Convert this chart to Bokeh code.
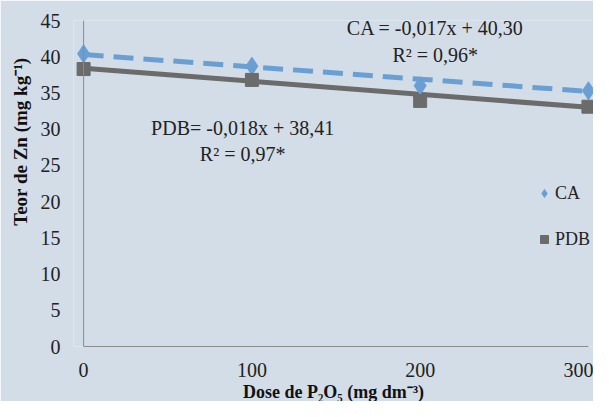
from bokeh.plotting import figure
from bokeh.models import Range1d, Label, Legend, LegendItem, FixedTicker, Title
from bokeh.embed import file_html
from bokeh.resources import INLINE

# data
doses = [0, 100, 200, 300]
ca_values = [40.4, 38.7, 36.0, 35.3]
pdb_values = [38.3, 36.8, 33.9, 33.1]
ca_slope, ca_intercept = -0.017, 40.30
pdb_slope, pdb_intercept = -0.018, 38.41
x_ticks = [0, 100, 200, 300]
y_ticks = [0, 5, 10, 15, 20, 25, 30, 35, 40, 45]

BG = "#D2DDE8"
BLUE = "#6A9FD4"
GRAY = "#6B6B6B"
FONT = "Liberation Serif"

p = figure(width=593, height=401, output_backend="svg", toolbar_location=None,
           x_range=Range1d(-6, 303), y_range=Range1d(0, 45),
           min_border_left=70, min_border_right=0, min_border_top=20, min_border_bottom=54)
p.background_fill_color = BG
p.border_fill_color = BG
p.outline_line_color = None
p.grid.visible = False

trend_x = [doses[0], doses[-1]]
ca_trend = [ca_intercept + ca_slope * x for x in trend_x]
pdb_trend = [pdb_intercept + pdb_slope * x for x in trend_x]

p.line(trend_x, ca_trend, line_color=BLUE, line_width=5, line_dash="20 10")
p.line(trend_x, pdb_trend, line_color=GRAY, line_width=5)
ca_sc = p.scatter(doses, ca_values, marker="diamond", size=18, fill_color=BLUE, line_color=BLUE)
pdb_sc = p.scatter(doses, pdb_values, marker="square", size=13, fill_color=GRAY, line_color=GRAY)

# y axis line at x=0
p.segment(x0=[x_ticks[0]], y0=[y_ticks[0]], x1=[x_ticks[0]], y1=[y_ticks[-1]],
          line_color="#8C8C8C", line_width=1)

for ax in (p.xaxis[0], p.yaxis[0]):
    ax.major_tick_line_color = None
    ax.minor_tick_line_color = None
    ax.major_label_text_font = FONT
    ax.major_label_text_font_size = "20px"
    ax.major_label_text_color = "#222222"

p.xaxis.ticker = FixedTicker(ticks=x_ticks)
p.yaxis.ticker = FixedTicker(ticks=y_ticks)
p.xaxis.bounds = (x_ticks[0], x_ticks[-1])
p.xaxis.axis_line_color = "#8C8C8C"
p.yaxis.axis_line_color = None
p.xaxis.major_label_standoff = 10
p.yaxis.major_label_standoff = 7

# axis titles
xt = Title(text="Dose de P\u2082O\u2085 (mg dm\u207b\u00b3)", align="center", standoff=0,
           text_font=FONT, text_font_style="bold", text_font_size="18px", text_color="#111111")
yt = Title(text="Teor de Zn (mg kg\u207b\u00b9)", align="right", standoff=14, offset=37,
           text_font=FONT, text_font_style="bold", text_font_size="19px", text_color="#111111")
p.add_layout(xt, "below")
p.add_layout(yt, "left")

def lab(x, y, t):
    p.add_layout(Label(x=x, y=y, text=t, text_font=FONT, text_font_size="20px",
                       text_align="center", text_baseline="middle", text_color="#222222"))

lab(209, 43.9, "CA = -0,017x + 40,30")
lab(209, 40.2, "R\u00b2 = 0,96*")
lab(94.5, 30.2, "PDB= -0,018x + 38,41")
lab(94.5, 26.6, "R\u00b2 = 0,97*")

legend = Legend(items=[LegendItem(label="CA", renderers=[ca_sc]),
                       LegendItem(label="PDB", renderers=[pdb_sc])],
                location=(461, 95), background_fill_alpha=0, border_line_color=None,
                padding=0, margin=0, spacing=22, glyph_width=20, glyph_height=24,
                label_standoff=1, label_text_font=FONT, label_text_font_size="18px",
                label_text_color="#222222")
p.add_layout(legend, "center")

open("out.html", "w").write(file_html(p, INLINE))
